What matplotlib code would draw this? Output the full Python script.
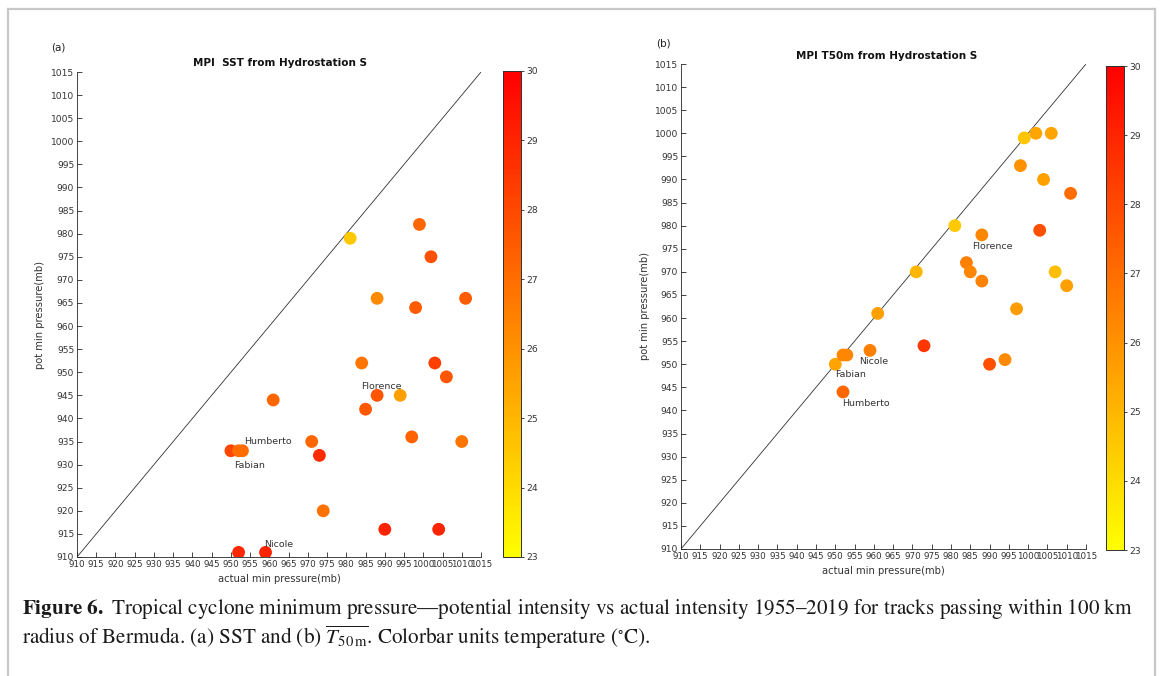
#!/usr/bin/env python3
"""MPI vs actual minimum pressure near Bermuda, SST and T50m panels."""
import numpy as np
import matplotlib
matplotlib.use("Agg")
import matplotlib.pyplot as plt
from matplotlib.lines import Line2D

# panel (a): MPI from SST
sst_actual = [961, 950, 952, 953, 952, 959, 981, 999, 1002, 988, 998, 1011, 984,
              1003, 1006, 988, 994, 985, 997, 971, 1010, 973, 974, 990, 1004]
sst_pot = [944, 933, 933, 933, 911, 911, 979, 982, 975, 966, 964, 966, 952,
           952, 949, 945, 945, 942, 936, 935, 935, 932, 920, 916, 916]
sst_temp = [27.2, 28.1, 27.0, 27.0, 28.9, 29.0, 24.5, 27.2, 27.8, 26.2, 27.5, 27.5, 26.8,
            28.3, 27.6, 27.7, 25.6, 27.6, 27.3, 27.2, 26.8, 28.8, 26.9, 29.0, 29.0]
sst_names = ["Humberto", "Fabian", "Nicole", "Florence"]
sst_name_pos = [(953.4, 935.0), (950.8, 929.8), (958.6, 912.8), (983.8, 947.0)]

# panel (b): MPI from T50m
t50_actual = [961, 950, 952, 953, 959, 952, 973, 990, 994, 997, 999, 1002, 1006,
              998, 1004, 1011, 981, 988, 1003, 971, 984, 985, 1007, 988, 1010]
t50_pot = [961, 950, 952, 952, 953, 944, 954, 950, 951, 962, 999, 1000, 1000,
           993, 990, 987, 980, 978, 979, 970, 972, 970, 970, 968, 967]
t50_temp = [25.6, 25.5, 26.3, 26.3, 26.5, 27.2, 28.5, 27.8, 26.2, 25.7, 24.6, 25.5, 25.5,
            26.0, 25.6, 27.0, 24.5, 26.3, 27.8, 25.0, 26.5, 26.3, 24.8, 26.4, 25.6]
t50_names = ["Nicole", "Fabian", "Humberto", "Florence"]
t50_name_pos = [(956.1, 950.6), (949.9, 947.8), (951.7, 941.5), (985.4, 975.4)]

ticks = list(range(910, 1016, 5))
cbar_ticks = [23, 24, 25, 26, 27, 28, 29, 30]

W, H = 1167, 676
TXT = "#333333"


def fx(px):
    return px / W


def fy(py):
    return 1 - py / H


def panel(rect, cbrect, actual, pot, temp, names, name_pos, title, title_xy, tag, tag_xy, ylab_x):
    ax = fig.add_axes(rect)
    ax.plot([910, 1015], [910, 1015], color="#303030", lw=0.6)
    sc = ax.scatter(actual, pot, c=temp, cmap="autumn_r", vmin=23, vmax=30,
                    s=85, edgecolors="none", zorder=3)
    for name, (x, y) in zip(names, name_pos):
        ax.text(x, y, name, fontsize=6.8, color=TXT, va="center", ha="left")
    ax.set_xlim(910, 1015)
    ax.set_ylim(910, 1015)
    ax.set_xticks(ticks)
    ax.set_yticks(ticks)
    ax.tick_params(direction="in", length=3.5, width=0.6, labelsize=6.6,
                   colors="#262626", labelcolor=TXT, pad=2)
    ax.tick_params(axis="x", labelsize=6.3)
    for side in ("top", "right"):
        ax.spines[side].set_visible(False)
    for side in ("left", "bottom"):
        ax.spines[side].set_linewidth(0.6)
        ax.spines[side].set_color("#262626")
    ax.set_xlabel("actual min pressure(mb)", fontsize=7.2, color=TXT, labelpad=4)
    fig.text(ylab_x, (rect[1] + rect[1] + rect[3]) / 2, "pot min pressure(mb)",
             rotation=90, fontsize=7.2, color=TXT, ha="center", va="center")

    cax = fig.add_axes(cbrect)
    cb = fig.colorbar(sc, cax=cax, ticks=cbar_ticks)
    cb.outline.set_linewidth(0.7)
    cb.outline.set_edgecolor("#303030")
    cax.tick_params(direction="out", length=2.5, width=0.6, labelsize=6.6,
                    colors="#262626", labelcolor=TXT, pad=1.5)

    fig.text(title_xy[0], title_xy[1], title, fontsize=7.5, fontweight="bold",
             ha="center", va="center", color="#111111")
    fig.text(tag_xy[0], tag_xy[1], tag, fontsize=7.5, ha="left", va="center", color="#222222")
    return ax


plt.rcParams["mathtext.fontset"] = "stix"
fig = plt.figure(figsize=(W / 100, H / 100), dpi=100)

panel([fx(77), fy(557), fx(481 - 77), (557 - 72) / H],
      [fx(503), fy(557), fx(18), (557 - 71) / H],
      sst_actual, sst_pot, sst_temp, sst_names, sst_name_pos,
      "MPI  SST from Hydrostation S", (fx(280), fy(63)), "(a)", (fx(51), fy(47)), fx(40))

panel([fx(681), fy(549), fx(1086 - 681), (549 - 64) / H],
      [fx(1106), fy(550), fx(18), (550 - 66) / H],
      t50_actual, t50_pot, t50_temp, t50_names, t50_name_pos,
      "MPI T50m from Hydrostation S", (fx(887), fy(56)), "(b)", (fx(656), fy(43)), fx(645))

# frame around the figure
frame = dict(color="#c8c8c8", lw=1.6, transform=fig.transFigure)
fig.add_artist(Line2D([fx(8), fx(8)], [0, fy(9)], **frame))
fig.add_artist(Line2D([fx(8), fx(1155)], [fy(9), fy(9)], **frame))
fig.add_artist(Line2D([fx(1155), fx(1155)], [0, fy(9)], **frame))

# caption
line1 = (r"$\mathbf{Figure\ 6.}$ Tropical cyclone minimum pressure—potential intensity vs "
         r"actual intensity 1955–2019 for tracks passing within 100 km")
line2 = (r"radius of Bermuda. (a) SST and (b) $\overline{T_{50\,\mathrm{m}}}$. "
         r"Colorbar units temperature ($^{\circ}$C).")
fig.text(fx(22), fy(609), line1, fontsize=15.2, family="STIXGeneral", ha="left", va="center",
         color="#1a1a1a")
fig.text(fx(22), fy(637), line2, fontsize=15.2, family="STIXGeneral", ha="left", va="center",
         color="#1a1a1a")

fig.savefig("out.png", dpi=100)
